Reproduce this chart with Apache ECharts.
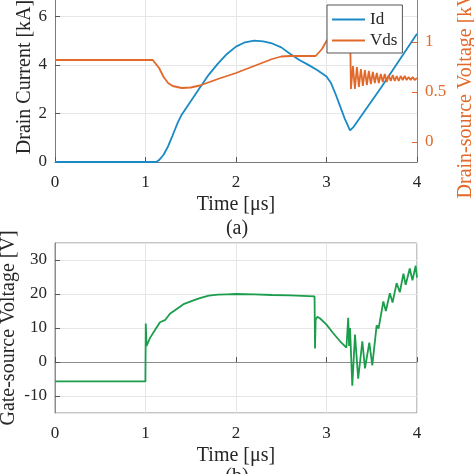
<!DOCTYPE html>
<html>
<head>
<meta charset="utf-8">
<script src="https://cdn.jsdelivr.net/npm/echarts@6/dist/echarts.min.js"></script>
<style>
  html, body { margin: 0; padding: 0; background: #fff; }
  #main { width: 474px; height: 474px; }
</style>
</head>
<body>
<div id="main"></div>
<script>
// (a) drain current [kA]
var idTime = [0, 1.12, 1.15, 1.2, 1.25, 1.3, 1.36, 1.4, 1.5, 1.6, 1.7, 1.8, 1.9, 2.0, 2.1, 2.2, 2.3, 2.4, 2.5, 2.6, 2.7, 2.8, 2.9, 3.0, 3.05, 3.1, 3.15, 3.2, 3.26, 3.3, 3.6, 4.0];
var idVal  = [0, 0, 0.08, 0.3, 0.65, 1.1, 1.65, 1.95, 2.5, 3.06, 3.6, 4.05, 4.45, 4.75, 4.93, 5.0, 4.97, 4.88, 4.72, 4.45, 4.2, 4.0, 3.78, 3.52, 3.25, 2.8, 2.3, 1.8, 1.3, 1.45, 3.05, 5.28];

// (a) drain-source voltage [kV]
var vdsTime = [0, 1.08, 1.1, 1.15, 1.2, 1.25, 1.3, 1.4, 1.5, 1.6, 1.8, 2.0, 2.2, 2.4, 2.5, 2.6, 2.75, 2.88, 2.95, 3.0, 3.05, 3.1, 3.15, 3.2, 3.26, 3.27,
  3.292, 3.314, 3.336, 3.358, 3.38, 3.402, 3.424, 3.446, 3.468, 3.49, 3.512, 3.534, 3.556, 3.578, 3.6, 3.622, 3.644, 3.666, 3.688, 3.71,
  3.732, 3.754, 3.776, 3.798, 3.82, 3.842, 3.864, 3.886, 3.908, 3.93, 3.952, 3.974, 4.0];
var vdsVal = [0.82, 0.82, 0.81, 0.74, 0.65, 0.59, 0.56, 0.54, 0.545, 0.565, 0.63, 0.69, 0.76, 0.83, 0.855, 0.86, 0.86, 0.86, 0.93, 1.01, 1.07, 1.1, 1.13, 1.15, 1.17, 0.53,
  0.76, 0.53, 0.75, 0.55, 0.73, 0.56, 0.72, 0.57, 0.71, 0.58, 0.7, 0.59, 0.69, 0.59, 0.68, 0.6, 0.68, 0.6, 0.67, 0.61,
  0.67, 0.61, 0.66, 0.61, 0.66, 0.62, 0.66, 0.62, 0.65, 0.62, 0.65, 0.62, 0.64];

// (b) gate-source voltage [V]
var vgsTime = [0, 0.999, 1.003, 1.012, 1.05, 1.105, 1.16, 1.215, 1.27, 1.345, 1.42, 1.53, 1.6, 1.7, 1.8, 1.9, 2.0, 2.2, 2.4, 2.6, 2.8, 2.868,
  2.873, 2.88, 2.9, 2.93, 3.0, 3.07, 3.15, 3.22, 3.24, 3.25, 3.26, 3.285, 3.315, 3.35, 3.396, 3.425, 3.473, 3.506,
  3.554, 3.575, 3.628, 3.656, 3.7, 3.73, 3.775, 3.81, 3.85, 3.875, 3.92, 3.95, 3.985, 4.0];
var vgsVal = [-5.7, -5.7, 11.3, 4.7, 7.1, 9.4, 11.7, 12.3, 14.2, 15.6, 17.0, 18.1, 18.8, 19.5, 19.8, 19.9, 20.0, 19.9, 19.7, 19.6, 19.4, 19.3,
  4.0, 12.5, 13.3, 12.8, 11.0, 8.6, 6.1, 4.2, 13.0, 4.7, 10.0, -7.0, 8.1, -4.9, 6.1, -1.9, 5.7, -1.0,
  10.8, 9.8, 17.8, 15.0, 20.2, 17.5, 23.2, 20.5, 26.0, 22.7, 27.5, 24.0, 28.3, 24.8];

function zip(t, v) {
  var out = [];
  for (var i = 0; i < t.length; i++) out.push([t[i], v[i]]);
  return out;
}

var font = "'Liberation Serif', 'DejaVu Serif', serif";
var txt = '#262626';
var orange = '#e2692a';
var gridLine = { show: true, lineStyle: { color: '#e6e6e6', width: 1 } };

// rotated axis titles, reading bottom to top
function vTitle(text, x, y, color) {
  return {
    type: 'text', x: x, y: y, rotation: Math.PI / 2, silent: true,
    style: { text: text, font: '20px ' + font, fill: color, align: 'center', verticalAlign: 'middle' }
  };
}

var chart = echarts.init(document.getElementById('main'), null, { renderer: 'canvas' });

var option = {
  backgroundColor: '#fff',
  animation: false,
  textStyle: { fontFamily: font },
  grid: [
    { left: 55, right: 57, top: -8, height: 170, containLabel: false, outerBoundsMode: 'none' },
    { left: 55, right: 57, top: 243, height: 170, containLabel: false, outerBoundsMode: 'none',
      show: true, borderColor: '#8c8c8c', borderWidth: 1 }
  ],
  legend: {
    data: ['Id', 'Vds'],
    orient: 'vertical',
    left: 327,
    top: 5,
    padding: [6, 5, 4, 5],
    icon: 'rect',
    itemWidth: 33,
    itemHeight: 2,
    itemGap: 4,
    backgroundColor: '#fff',
    borderColor: '#555',
    borderWidth: 1,
    textStyle: { fontFamily: font, fontSize: 17, color: txt }
  },
  xAxis: [
    {
      type: 'value', gridIndex: 0, min: 0, max: 4, interval: 1,
      name: 'Time [\u03bcs]', nameLocation: 'middle', nameGap: 33,
      nameTextStyle: { fontFamily: font, fontSize: 20, color: txt },
      axisLine: { lineStyle: { color: '#7a7a7a' } },
      axisTick: { inside: true, length: 5, lineStyle: { color: '#555' } },
      axisLabel: { fontFamily: font, fontSize: 17, color: txt, margin: 12 },
      splitLine: gridLine
    },
    {
      type: 'value', gridIndex: 1, min: 0, max: 4, interval: 1,
      name: 'Time [\u03bcs]', nameLocation: 'middle', nameGap: 33,
      nameTextStyle: { fontFamily: font, fontSize: 20, color: txt },
      axisLine: { lineStyle: { color: '#8c8c8c' } },
      axisTick: { inside: true, length: 5, lineStyle: { color: '#555' } },
      axisLabel: { fontFamily: font, fontSize: 17, color: txt, margin: 12 },
      splitLine: gridLine
    }
  ],
  yAxis: [
    {
      type: 'value', gridIndex: 0, min: 0, max: 7, interval: 2,
      axisLine: { show: true, lineStyle: { color: '#7a7a7a' } },
      axisTick: { show: true, inside: true, length: 5, lineStyle: { color: '#555' } },
      axisLabel: { fontFamily: font, fontSize: 17, color: txt, margin: 8 },
      splitLine: gridLine
    },
    {
      type: 'value', gridIndex: 0, position: 'right', min: -0.2, max: 1.5, splitNumber: 4,
      axisLine: { show: true, lineStyle: { color: orange } },
      axisTick: { show: true, inside: true, length: 5, lineStyle: { color: orange } },
      axisLabel: { fontFamily: font, fontSize: 17, color: orange, margin: 8, showMinLabel: false, showMaxLabel: false },
      splitLine: { show: false }
    },
    {
      type: 'value', gridIndex: 1, min: -15, max: 35, splitNumber: 5,
      axisLine: { show: true, lineStyle: { color: '#8c8c8c' } },
      axisTick: { show: true, inside: true, length: 5, lineStyle: { color: '#555' } },
      axisLabel: { fontFamily: font, fontSize: 17, color: txt, margin: 8, showMinLabel: false, showMaxLabel: false },
      splitLine: gridLine
    }
  ],
  graphic: [
    vTitle('Drain Current [kA]', 25, 77, txt),
    vTitle('Drain-source Voltage [kV]', 466, 92, orange),
    vTitle('Gate-source Voltage [V]', 9, 328, txt),
    { type: 'text', left: 'center', top: 219, style: { text: '(a)', font: '20px ' + font, fill: txt } },
    { type: 'text', left: 'center', top: 467, style: { text: '(b)', font: '20px ' + font, fill: txt } }
  ],
  series: [
    {
      name: 'Id', type: 'line', xAxisIndex: 0, yAxisIndex: 0, symbol: 'none',
      lineStyle: { color: '#1a8ac6', width: 1.8 }, itemStyle: { color: '#1a8ac6' },
      data: zip(idTime, idVal)
    },
    {
      name: 'Vds', type: 'line', xAxisIndex: 0, yAxisIndex: 1, symbol: 'none',
      lineStyle: { color: orange, width: 1.8 }, itemStyle: { color: orange },
      data: zip(vdsTime, vdsVal)
    },
    {
      name: 'Vgs', type: 'line', xAxisIndex: 1, yAxisIndex: 2, symbol: 'none',
      lineStyle: { color: '#1b9d4c', width: 1.8 }, itemStyle: { color: '#1b9d4c' },
      data: zip(vgsTime, vgsVal)
    }
  ]
};

chart.setOption(option);
</script>
</body>
</html>
